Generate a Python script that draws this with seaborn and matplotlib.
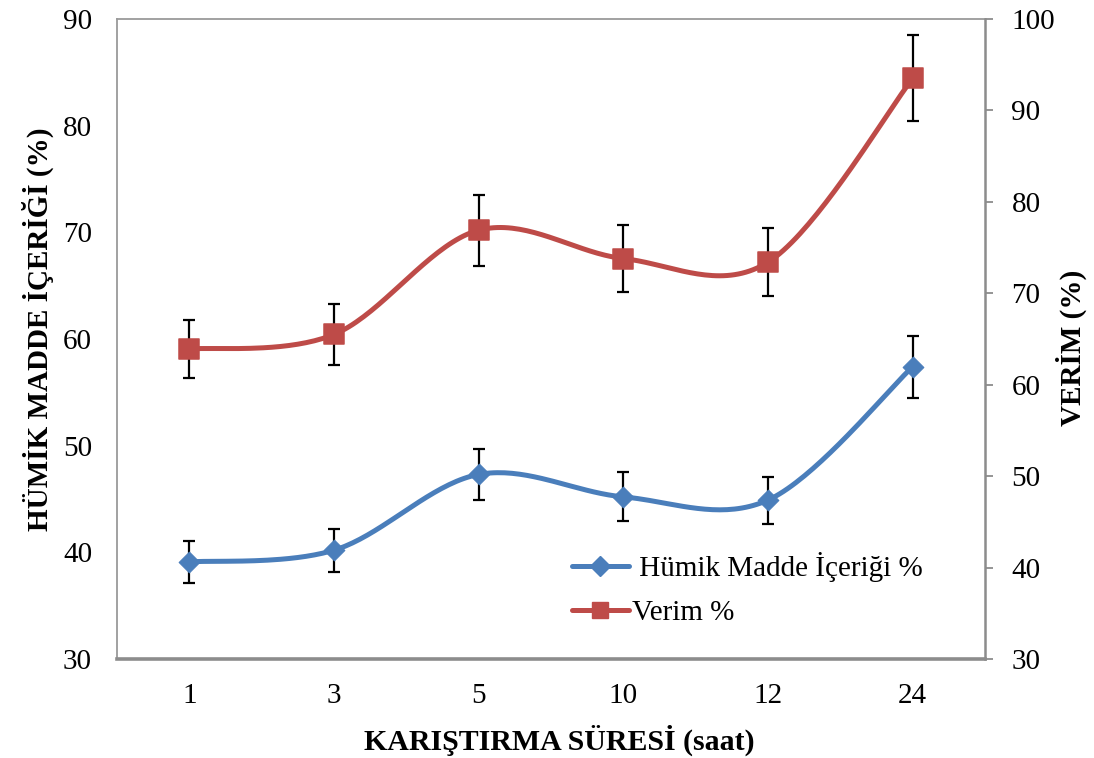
import numpy as np
import pandas as pd
import seaborn as sns
import matplotlib.pyplot as plt
from matplotlib.lines import Line2D

# --- data ---
sure_labels = ["1", "3", "5", "10", "12", "24"]
humik = [39.1, 40.2, 47.3, 45.2, 44.9, 57.4]
humik_err = [2.0, 2.0, 2.4, 2.3, 2.2, 2.9]
verim = [63.9, 65.5, 76.9, 73.8, 73.4, 93.5]
verim_err = [3.2, 3.3, 3.9, 3.7, 3.7, 4.7]

BLUE = "#4A7EBB"
RED = "#BE4B48"
GRAY = "#8C8C8C"


def smooth_curve(xs, ys, n=40):
    # Excel-like smoothed line (Catmull-Rom as cubic Bezier)
    pts = np.column_stack([xs, ys]).astype(float)
    ext = np.vstack([pts[0], pts, pts[-1]])
    out = []
    t = np.linspace(0, 1, n)[:, None]
    for i in range(len(pts) - 1):
        p0, p1, p2, p3 = ext[i], ext[i + 1], ext[i + 2], ext[i + 3]
        b1 = p1 + (p2 - p0) / 6.0
        b2 = p2 - (p3 - p1) / 6.0
        seg = ((1 - t) ** 3) * p1 + 3 * ((1 - t) ** 2) * t * b1 \
            + 3 * (1 - t) * t ** 2 * b2 + t ** 3 * p2
        out.append(seg if i == 0 else seg[1:])
    out = np.vstack(out)
    return pd.DataFrame({"x": out[:, 0], "y": out[:, 1]})


sns.set_style("white")
plt.rcParams["font.family"] = ["Liberation Serif", "DejaVu Serif"]
plt.rcParams["text.color"] = "black"
plt.rcParams["axes.labelcolor"] = "black"

fig = plt.figure(figsize=(10.94, 7.58), dpi=100)
ax = fig.add_axes([117 / 1094, 1 - 659 / 758, 868 / 1094, 640 / 758])
ax2 = ax.twinx()

xi = np.arange(len(sure_labels))
df = pd.DataFrame({"x": xi, "humik": humik, "verim": verim})

# blue series on left axis
sns.lineplot(data=smooth_curve(xi, humik), x="x", y="y", sort=False,
             estimator=None, color=BLUE, lw=3.6, ax=ax, zorder=2)
ax.errorbar(xi, humik, yerr=humik_err, fmt="none", ecolor="black",
            elinewidth=1.6, capsize=4.5, capthick=1.6, zorder=3)
sns.scatterplot(data=df, x="x", y="humik", marker="D", s=110, color=BLUE,
                edgecolor=BLUE, ax=ax, zorder=4)

# red series on right axis
sns.lineplot(data=smooth_curve(xi, verim), x="x", y="y", sort=False,
             estimator=None, color=RED, lw=3.6, ax=ax2, zorder=2)
ax2.errorbar(xi, verim, yerr=verim_err, fmt="none", ecolor="black",
             elinewidth=1.6, capsize=4.5, capthick=1.6, zorder=3)
sns.scatterplot(data=df, x="x", y="verim", marker="s", s=190, color=RED,
                edgecolor=RED, ax=ax2, zorder=4)

# axes limits / ticks
ax.set_xlim(-0.5, len(sure_labels) - 0.5)
ax.set_ylim(30, 90)
ax.set_yticks(range(30, 91, 10))
ax2.set_ylim(30, 100)
ax2.set_yticks(range(30, 101, 10))
ax.set_xticks(xi)
ax.set_xticklabels(sure_labels)

ax.tick_params(axis="y", left=True, length=0, pad=18, labelsize=21,
               labelcolor="black")
ax.tick_params(axis="x", direction="inout", length=10, width=2,
               color=GRAY, pad=12, labelsize=21, labelcolor="black")
ax2.tick_params(axis="y", direction="out", length=6, width=1.3,
                color=GRAY, pad=13, labelsize=21, labelcolor="black")

for s in ["left", "top"]:
    ax.spines[s].set_color("#9A9A9A")
    ax.spines[s].set_linewidth(1.3)
ax.spines["right"].set_visible(False)
ax.spines["bottom"].set_color(GRAY)
ax.spines["bottom"].set_linewidth(2.6)
for s in ["left", "top", "bottom"]:
    ax2.spines[s].set_visible(False)
ax2.spines["right"].set_color(GRAY)
ax2.spines["right"].set_linewidth(1.8)

# labels
ax.set_xlabel("KARIŞTIRMA SÜRESİ (saat)", fontsize=21.5, fontweight="bold")
ax.set_ylabel("HÜMİK MADDE İÇERİĞİ (%)", fontsize=21, fontweight="bold")
ax2.set_ylabel("VERİM (%)", fontsize=21, fontweight="bold", rotation=90)
ax.xaxis.set_label_coords(0.51, -0.127)
ax.xaxis.label.set_va("center")
ax.yaxis.set_label_coords(-0.091, 0.515)
ax.yaxis.label.set_va("center")
ax2.yaxis.set_label_coords(1.10, 0.486)
ax2.yaxis.label.set_va("center")

# legend
handles = [
    Line2D([], [], color=BLUE, lw=3.6, marker="D", markersize=10),
    Line2D([], [], color=RED, lw=3.6, marker="s", markersize=12),
]
ax2.legend(handles, [" Hümik Madde İçeriği %", "Verim %"],
           loc="upper left", bbox_to_anchor=(0.524, 0.167),
           frameon=False, fontsize=21, handlelength=1.95,
           handletextpad=0.1, labelspacing=0.6, borderaxespad=0,
           borderpad=0)

fig.savefig("out.png", dpi=100)
